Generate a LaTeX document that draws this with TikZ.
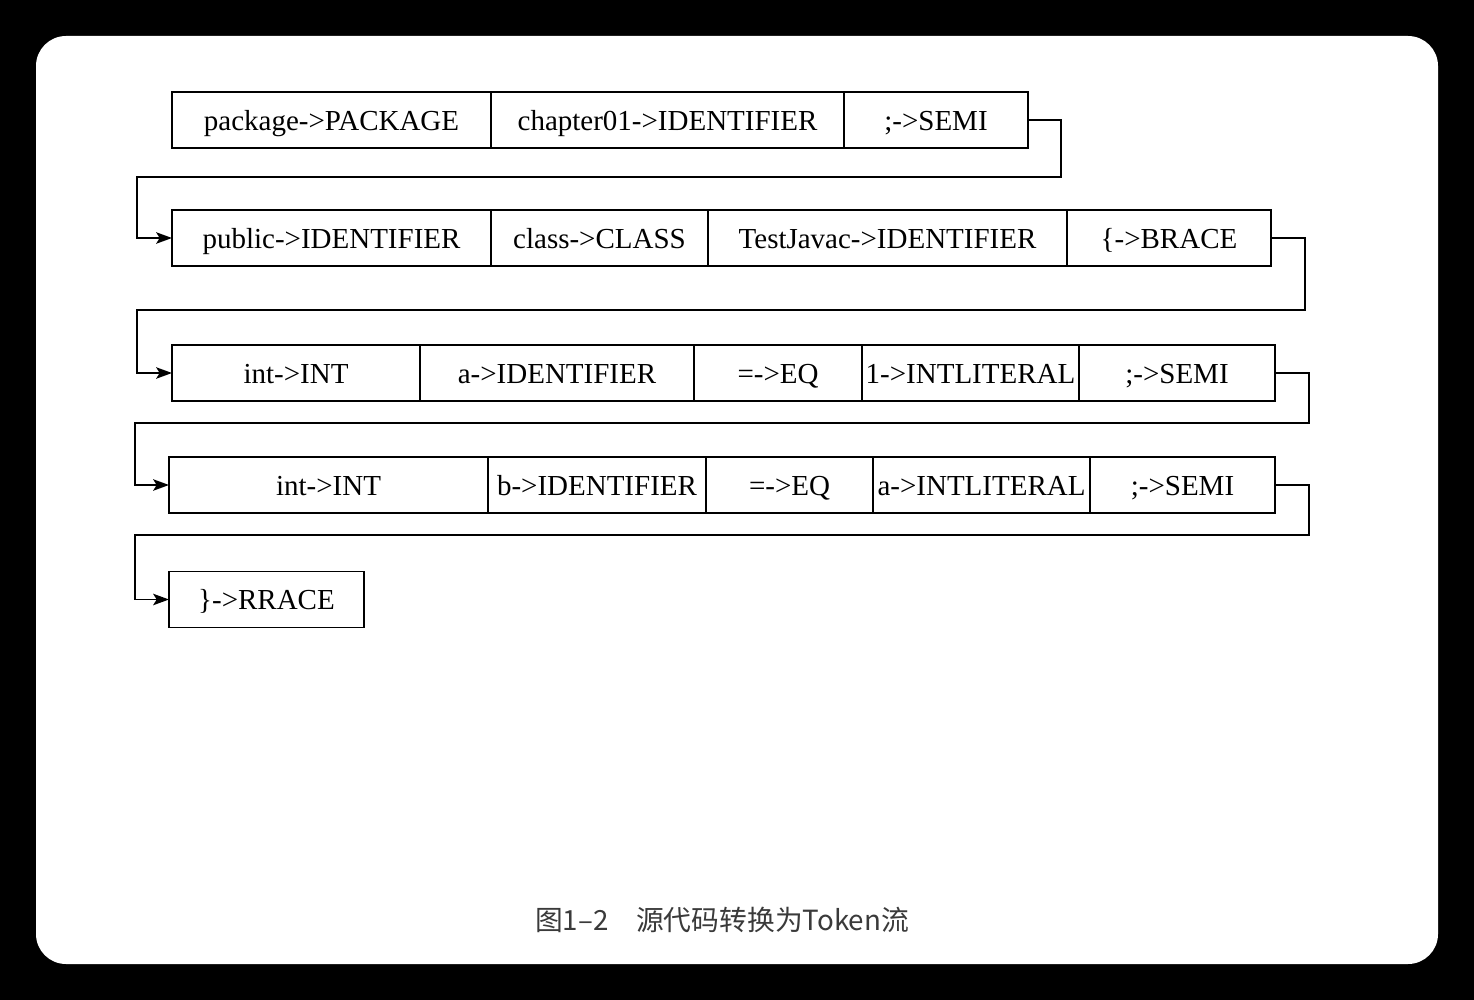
\documentclass[tikz,border=0pt]{standalone}
\usepackage{fontspec}
\setmainfont{Liberation Serif}
\newfontfamily\cjk{Noto Sans CJK SC}
\usetikzlibrary{arrows.meta}
\definecolor{CapGray}{HTML}{3A3A3A}
\tikzset{>={Stealth[length=9pt,width=6.5pt,inset=2pt]},
 tok/.style={draw,line width=1.1pt,anchor=west,inner sep=0pt,outer sep=0pt,
 minimum height=1.12cm,text height=13pt,text depth=1.6pt,font=\fontsize{16.5}{20}\selectfont},
 flow/.style={line width=1.1pt,->}}

\begin{document}
\begin{tikzpicture}[x=0.02cm,y=-0.02cm]
\useasboundingbox (0,0) rectangle (1474,1000);
\fill[black] (0,0) rectangle (1474,1000);
\fill[white,rounded corners=0.6cm] (36,36) rectangle (1438,964);
% token rows
\foreach \xl/\w/\t [count=\i] in {172/319/package->PACKAGE,491/353/chapter01->IDENTIFIER,844/184/;->SEMI}
 {\node[tok,minimum width=\w*0.02cm] (r1c\i) at (\xl,120) {\t};}
\foreach \xl/\w/\t [count=\i] in {172/319/public->IDENTIFIER,491/217/class->CLASS,708/359/TestJavac->IDENTIFIER,1067/204/\{->BRACE}
 {\node[tok,minimum width=\w*0.02cm] (r2c\i) at (\xl,238) {\t};}
\foreach \xl/\w/\t [count=\i] in {172/248/int->INT,420/274/a->IDENTIFIER,694/168/=->EQ,862/217/1->INTLITERAL,1079/196/;->SEMI}
 {\node[tok,minimum width=\w*0.02cm] (r3c\i) at (\xl,373) {\t};}
\foreach \xl/\w/\t [count=\i] in {169/319/int->INT,488/218/b->IDENTIFIER,706/167/=->EQ,873/217/a->INTLITERAL,1090/185/;->SEMI}
 {\node[tok,minimum width=\w*0.02cm] (r4c\i) at (\xl,485) {\t};}
\node[tok,minimum width=195*0.02cm] (r5c1) at (169,599.5) {\}->RRACE};
% line feeds
\foreach \a/\b/\xr/\yt/\xb in {r1c3/r2c1/1061/177/137,r2c4/r3c1/1305/310/137,r3c5/r4c1/1309/423/135,r4c5/r5c1/1309/535/135}
 {\coordinate (\a-turn) at (\xr,\yt);
  \coordinate (\b-back) at (\xb,\yt);
  \draw[flow] (\a.east) -| (\a-turn) -- (\b-back) |- (\b.west);}
\node[font=\cjk\fontsize{15.8}{20}\selectfont,text=CapGray] (cap) at (722,920) {图1–2\quad 源代码转换为Token流};
\end{tikzpicture}
\end{document}
